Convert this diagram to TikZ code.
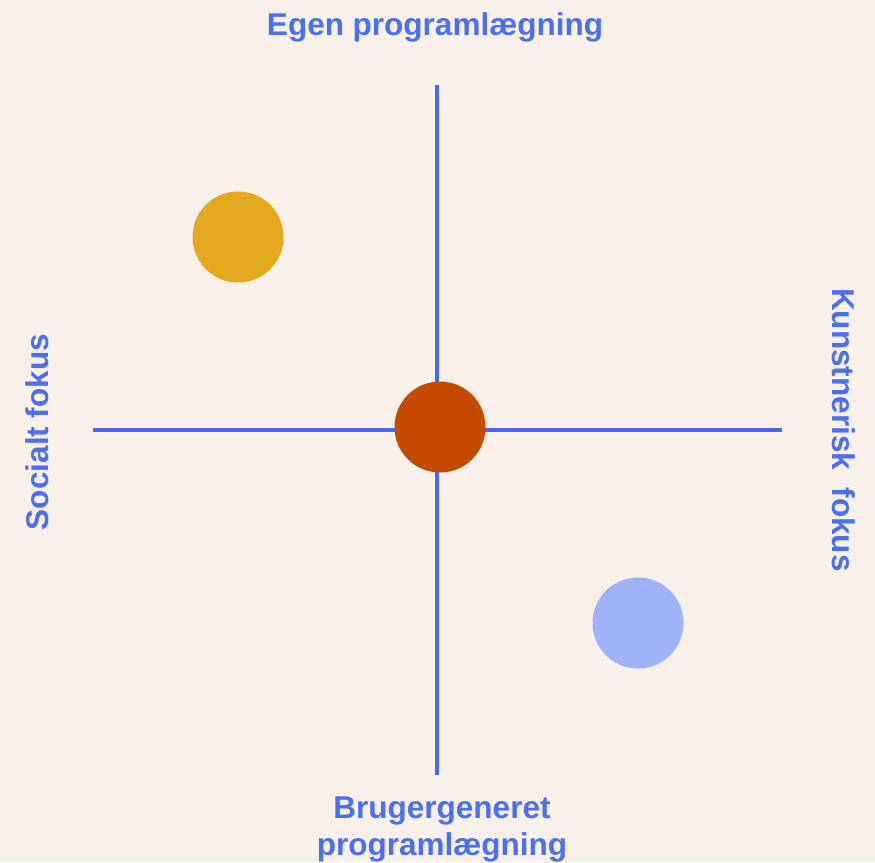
\documentclass[tikz,border=0pt]{standalone}
\usepackage{fontspec}
\setmainfont{Liberation Sans}
\definecolor{bg}{HTML}{F9F0EA}
\definecolor{axisblue}{HTML}{446CF0}
\definecolor{txtblue}{HTML}{4A6FEF}
\definecolor{dotred}{HTML}{C44A00}
\definecolor{dotyellow}{HTML}{E3A81E}
\definecolor{dotlblue}{HTML}{9FB3FA}
\begin{document}
\begin{tikzpicture}[x=1pt,y=-1pt,
  axisline/.style={draw=axisblue,line width=4pt},
  dot/.style={circle,inner sep=0pt,minimum size=91pt},
  lbl/.style={text=txtblue,font=\fontsize{31.5}{38}\selectfont\bfseries,align=center,inner sep=0pt}]
\fill[bg] (0,0) rectangle (875,862);
\useasboundingbox (0,0) rectangle (875,862);
\coordinate (vtop) at (437,85);
\coordinate (vbot) at (437,775);
\coordinate (hl) at (93,430);
\coordinate (hr) at (782,430);
\draw[axisline] (vtop) -- (vbot);
\draw[axisline] (hl) -- (hr);
\node[dot,fill=dotred] (c) at (440,427) {};
\node[dot,fill=dotyellow] (y) at (238,237) {};
\node[dot,fill=dotlblue] (b) at (638,623) {};
\node[lbl,anchor=base] (top) at (435,35) {Egen programlægning};
\node[lbl,anchor=base] (bot) at (442,818) {Brugergeneret};
\node[lbl,anchor=base] (bot2) at (442,855) {programlægning};
\node[lbl,rotate=90,anchor=base] (left) at (48,432) {Socialt fokus};
\node[lbl,rotate=-90,anchor=base] (right) at (832,430) {Kunstnerisk\ \ fokus};
\end{tikzpicture}
\end{document}
